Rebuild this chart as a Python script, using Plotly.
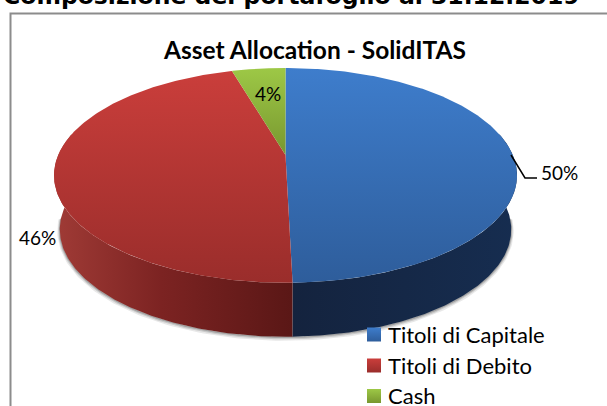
import numpy as np
import plotly.graph_objects as go

categories = ["Titoli di Capitale", "Titoli di Debito", "Cash"]
values = [49.6, 45.91, 4.49]
labels = ["50%", "46%", "4%"]
main_title = "Composizione del portafoglio al 31.12.2019"
chart_title = "Asset Allocation - SolidITAS"

W, H = 607, 406
CX, CY = 285.5, 155.0
K, A, B = 0.19, 103.5, 227.3
DEPTH, LOWER = 54.0, 0.975
FONT = "Lato"

top_grad = [("#3e7dcc", "#2e5d9b"), ("#ca3e3b", "#9a2d2b"), ("#9dc846", "#78972f")]
side_grad = [
    [[0, "#14233e"], [1, "#162d50"]],
    [[0, "#a03b36"], [0.45, "#7c2322"], [1, "#5a1716"]],
]


def project(theta, scale=1.0, dy=0.0):
    """Perspective map of pie angle (clockwise from the top) to pixels."""
    sx, sy = np.sin(theta), np.cos(theta)
    den = 1 + K * sy
    return CX + scale * B * sx / den, CY - A * sy / den + dy


fractions = np.array(values) / sum(values)
edges = np.concatenate([[0], np.cumsum(fractions)]) * 2 * np.pi

fig = go.Figure()


def polygon(x, y, grad, name=None):
    fig.add_trace(go.Scatter(
        x=x, y=y, mode="lines", fill="toself", line=dict(width=0),
        fillgradient=grad, hoverinfo="skip", showlegend=False, name=name))


# soft shadow under the side wall
front = np.linspace(np.radians(95), np.radians(265), 200)
for w, a, off in [(5, 0.14, 1.5), (3, 0.22, 1.0), (1.5, 0.35, 0.5)]:
    sx, sy = project(front, LOWER, DEPTH + off)
    fig.add_trace(go.Scatter(x=sx, y=sy, mode="lines", hoverinfo="skip", showlegend=False,
                             line=dict(color=f"rgba(90,90,90,{a})", width=w)))

# side walls, only for the part facing the viewer
lim0, lim1 = np.radians(78), np.radians(282)
for i in range(2):
    t = np.linspace(max(edges[i], lim0), min(edges[i + 1], lim1), 160)
    x0, y0 = project(t)
    x1, y1 = project(t, LOWER, DEPTH)
    xs = np.concatenate([x0, x1[::-1]])
    ys = np.concatenate([y0, y1[::-1]])
    polygon(xs, ys, dict(type="horizontal", colorscale=side_grad[i],
                         start=float(xs.min()), stop=float(xs.max())))

# top face
for i, (cat, (c0, c1)) in enumerate(zip(categories, top_grad)):
    t = np.linspace(edges[i], edges[i + 1], 240)
    x, y = project(t)
    xs = np.concatenate([[CX], x, [CX]])
    ys = np.concatenate([[CY], y, [CY]])
    polygon(xs, ys, dict(type="vertical", colorscale=[[0, c0], [1, c1]],
                         start=float(ys.min()), stop=float(ys.max())), name=cat)

# legend keys
key_y = [334.5, 365.5, 396]
for cat, (c0, c1), yy in zip(categories, top_grad, key_y):
    fig.add_trace(go.Scatter(
        x=[374], y=[yy], mode="markers", hoverinfo="skip", showlegend=False,
        marker=dict(symbol="square", size=14, color=c0, line=dict(width=0),
                    gradient=dict(type="vertical", color=c1))))


def note(text, x, y, size, anchor="center", bold=False, family=FONT, color="#000000", vanchor="middle"):
    fig.add_annotation(x=x, y=y, xref="x", yref="y", text=f"<b>{text}</b>" if bold else text,
                       showarrow=False, xanchor=anchor, yanchor=vanchor,
                       font=dict(family=family, size=size, color=color))


note(main_title, 291, 12, 23.5, bold=True, family="DejaVu Sans", vanchor="bottom")
note(chart_title, 314.5, 49, 24.5, bold=True)
note(labels[0], 559.5, 172, 19)
note(labels[1], 37.5, 237, 19)
note(labels[2], 268, 93, 19)
for cat, yy in zip(categories, key_y):
    note(cat, 385.5, yy - 0.5, 22, anchor="left")

fig.update_layout(
    width=W, height=H, autosize=False, margin=dict(l=0, r=0, t=0, b=0),
    paper_bgcolor="white", plot_bgcolor="white", showlegend=False,
    xaxis=dict(range=[0, W], visible=False, fixedrange=True),
    yaxis=dict(range=[H, 0], visible=False, fixedrange=True),
    shapes=[
        dict(type="path", path="M 607 13.5 L 10.5 13.5 L 10.5 406", xref="x", yref="y",
             line=dict(color="#8c8c8c", width=2)),
        dict(type="path", path="M 511 155 L 525 178 L 537 178", xref="x", yref="y",
             line=dict(color="#000000", width=1.5)),
    ],
)
fig.write_html("out.html", config=dict(displayModeBar=False),
               post_script="document.body.style.margin='0';")
